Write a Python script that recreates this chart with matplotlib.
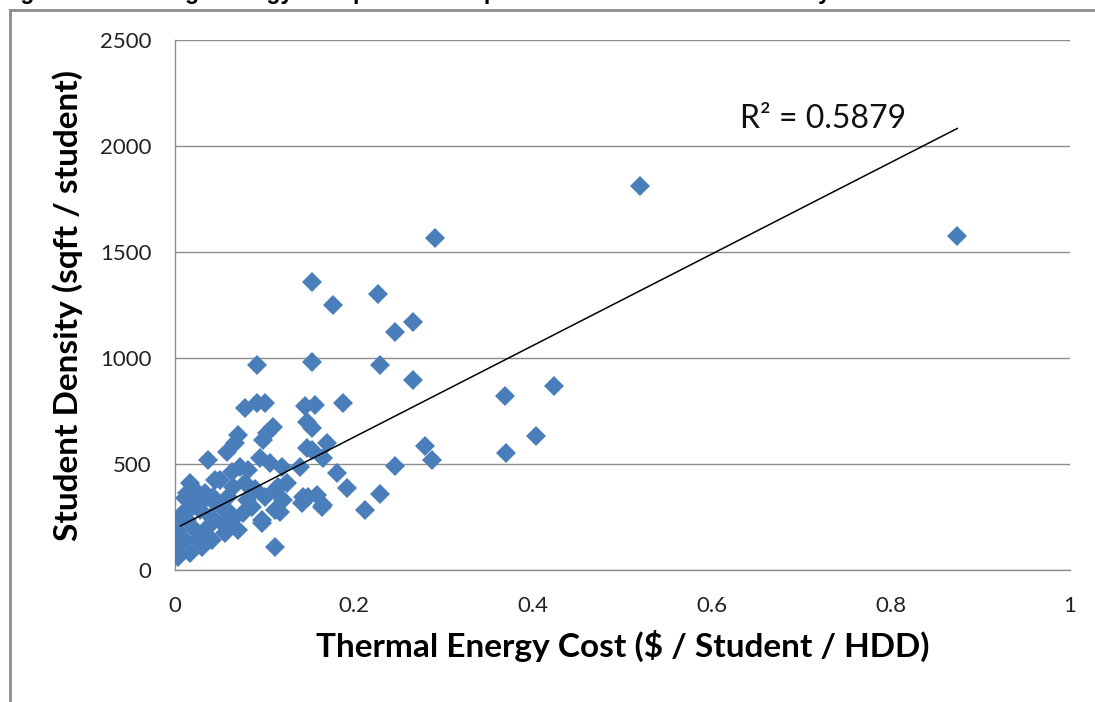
import numpy as np
import matplotlib
matplotlib.use("Agg")
import matplotlib.pyplot as plt
from matplotlib.lines import Line2D

# thermal energy cost ($ / student / HDD) vs student density (sqft / student)
cost = [0.520, 0.874, 0.291, 0.153, 0.177, 0.227, 0.266, 0.246, 0.153, 0.229,
        0.266, 0.092, 0.369, 0.423, 0.403, 0.370, 0.279, 0.287, 0.246, 0.212,
        0.229, 0.188, 0.156, 0.145, 0.078, 0.092, 0.101, 0.109, 0.103, 0.070,
        0.098, 0.147, 0.153, 0.170, 0.147, 0.181, 0.192, 0.165, 0.140, 0.143,
        0.159, 0.165, 0.112, 0.037, 0.058, 0.073, 0.095, 0.106, 0.112, 0.121,
        0.117, 0.097, 0.065, 0.050, 0.017, 0.013, 0.042, 0.058, 0.076, 0.028,
        0.009, 0.002, 0.006, 0.025, 0.036, 0.017, 0.003, 0.013,
        0.067, 0.022, 0.011, 0.034, 0.045, 0.064, 0.078, 0.059, 0.045, 0.003,
        0.001, 0.008, 0.030, 0.041, 0.056, 0.064, 0.070, 0.053, 0.037, 0.022,
        0.011, 0.120, 0.082, 0.115, 0.101, 0.086, 0.149, 0.142, 0.112, 0.097,
        0.164, 0.153, 0.040, 0.050, 0.080, 0.030, 0.062, 0.089, 0.020, 0.125]
density = [1811, 1575, 1566, 1358, 1250, 1302, 1170, 1123, 981, 967,
           896, 967, 821, 868, 632, 552, 585, 519, 491, 283,
           358, 788, 778, 774, 764, 788, 788, 675, 646, 637,
           613, 698, 670, 599, 575, 458, 387, 528, 486, 344,
           354, 307, 108, 519, 557, 486, 528, 505, 377, 330,
           274, 236, 392, 425, 410, 363, 344, 203, 269, 283,
           269, 189, 108, 142, 156, 80, 61, 236,
           599, 377, 340, 363, 425, 462, 410, 344, 316, 222,
           127, 94, 108, 142, 175, 236, 189, 222, 203, 189,
           142, 486, 472, 392, 344, 297, 344, 316, 283, 222,
           297, 566, 250, 300, 330, 320, 270, 380, 300, 410]

# linear trendline as shown in the chart
trend_slope = 2160
trend_intercept = 195
trend_range = [0.006, 0.874]
r2_label = "R² = 0.5879"

x_ticks = [0, 0.2, 0.4, 0.6, 0.8, 1]
x_labels = ["0", "0.2", "0.4", "0.6", "0.8", "1"]
y_ticks = [0, 500, 1000, 1500, 2000, 2500]

plt.rcParams['font.family'] = ['Lato', 'DejaVu Sans']

fig = plt.figure(figsize=(10.95, 7.02), dpi=100)
ax = fig.add_axes([0.1598, 0.188, 0.8174, 0.755])

ax.plot(cost, density, linestyle='none', marker='D', markersize=10,
        color='#4a7ebb', markeredgewidth=0, zorder=3)

xs = np.array(trend_range)
ax.plot(xs, trend_slope * xs + trend_intercept, color='black', linewidth=1.1, zorder=4)
ax.text(0.631, 2085, r2_label, fontsize=23, color='#111111', va='baseline')

ax.set_xlim(0, 1)
ax.set_ylim(0, 2500)
ax.set_xticks(x_ticks)
ax.set_xticklabels(x_labels)
ax.set_yticks(y_ticks)
ax.tick_params(length=0, labelsize=16, colors='#222222')
ax.tick_params(axis='x', pad=19)
ax.tick_params(axis='y', pad=17)
ax.grid(axis='y', color='#8c8c8c', linewidth=1)
ax.set_axisbelow(True)
for s in ['top', 'right']:
    ax.spines[s].set_visible(False)
for s in ['left', 'bottom']:
    ax.spines[s].set_color('#8c8c8c')
    ax.spines[s].set_linewidth(1)

ax.set_xlabel("Thermal Energy Cost ($ / Student / HDD)", fontsize=24,
              fontweight='bold', labelpad=10)
ax.set_ylabel("Student Density (sqft / student)", fontsize=24,
              fontweight='bold', labelpad=12)

# chart border (cut off at right and bottom) and cropped caption
fig.add_artist(Line2D([0.0091, 0.0091], [0.986, -0.01], transform=fig.transFigure,
                      color='#8c8c8c', linewidth=2))
fig.add_artist(Line2D([0.0091, 1.01], [0.986, 0.986], transform=fig.transFigure,
                      color='#8c8c8c', linewidth=2))
fig.text(0.0, 1.010, "Figure 2-4: Average energy cost per student per HDD versus student density",
         fontsize=16.5, fontweight='bold', family=['Liberation Sans', 'DejaVu Sans'],
         va='center', ha='left')

fig.savefig("out.png", dpi=100)
